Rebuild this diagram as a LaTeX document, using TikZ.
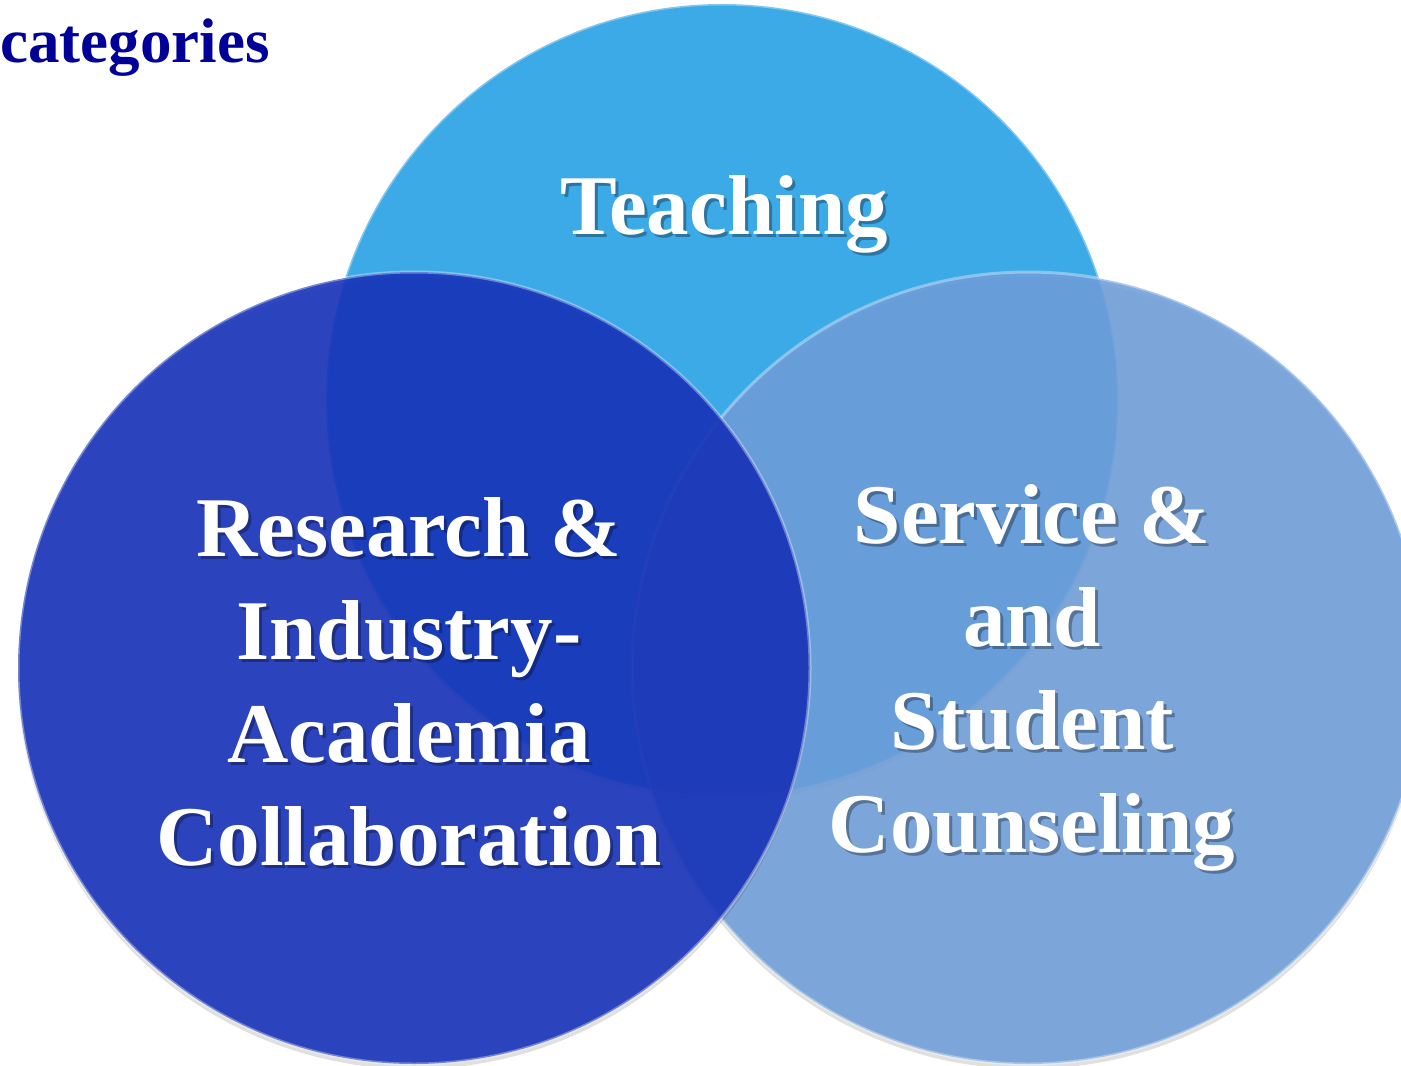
\documentclass[tikz,border=0pt]{standalone}
\usepackage{fontspec}
\setmainfont{Liberation Serif}

\definecolor{teachblue}{RGB}{61,170,232}
\definecolor{resblue}{RGB}{24,52,186}
\definecolor{servblue}{RGB}{111,159,218}
\definecolor{titlenavy}{RGB}{0,0,153}

\tikzset{
  disc/.style={circle, inner sep=0pt, minimum size=396pt},
  discshadow/.style={disc, fill=black, fill opacity=0.12},
  discrim/.style={disc, draw=white, draw opacity=0.35, line width=1.5pt},
  lbl/.style={text=white, align=center, inner sep=0pt,
    font=\fontsize{42.5}{51.5}\selectfont\bfseries},
  lblshadow/.style={lbl, text=black, text opacity=0.3}
}

\begin{document}
\begin{tikzpicture}[x=0.5pt, y=-0.5pt]
  \useasboundingbox (0,0) rectangle (1401,1065);
  \clip (0,0) rectangle (1401,1065);
  \fill[white] (0,0) rectangle (1401,1065);

  % the three discs, back to front
  \node[discshadow] at (722,404) {};
  \node[disc, fill=teachblue] (teach) at (722,400) {};
  \node[discrim] at (722,400) {};

  \node[discshadow] at (1028,673) {};
  \node[disc, fill=servblue, fill opacity=0.88] (serv) at (1028,668) {};
  \node[discrim] at (1028,668) {};

  \node[discshadow] at (414,673) {};
  \node[disc, fill=resblue, fill opacity=0.9] (res) at (414,668) {};
  \node[discrim] at (414,668) {};

  % labels with a soft drop shadow
  \node[lblshadow] at (727,217) {Teaching};
  \node[lbl] (teachlbl) at (724,214) {Teaching};

  \node[lblshadow] at (412,685) {Research \&\\Industry-\\Academia\\Collaboration};
  \node[lbl] (reslbl) at (409,682) {Research \&\\Industry-\\Academia\\Collaboration};

  \node[lblshadow] at (1035,681) {Service \&\\and\\Student\\Counseling};
  \node[lbl] (servlbl) at (1032,678) {Service \&\\and\\Student\\Counseling};

  \node[anchor=base west, inner sep=0pt, text=titlenavy,
    font=\fontsize{31.5}{36}\selectfont\bfseries] (title) at (0,63) {categories};
\end{tikzpicture}
\end{document}
